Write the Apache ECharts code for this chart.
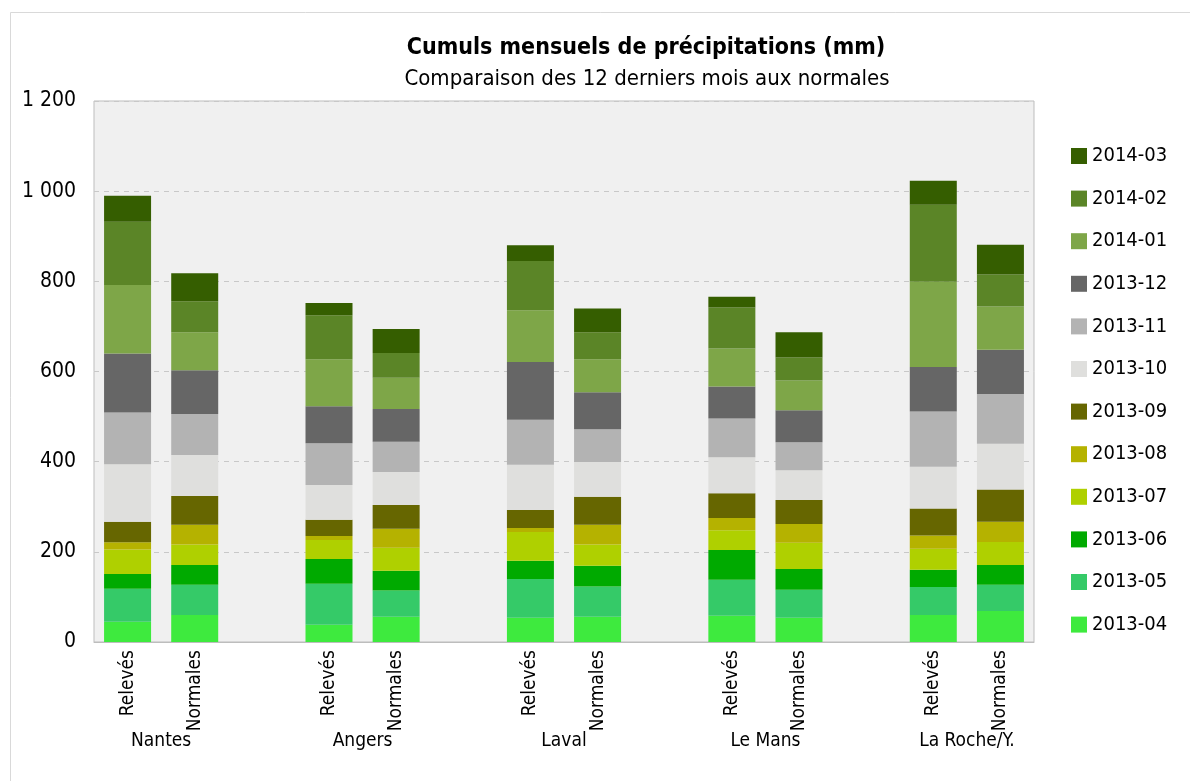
<!DOCTYPE html>
<html>
<head>
<meta charset="utf-8">
<script src="https://cdn.jsdelivr.net/npm/echarts@6/dist/echarts.min.js"></script>
<style>html,body{margin:0;padding:0;background:#fff;}#c{width:1190px;height:781px;}</style>
</head>
<body>
<div id="c"></div>
<script>
const months = ['2013-04','2013-05','2013-06','2013-07','2013-08','2013-09','2013-10','2013-11','2013-12','2014-01','2014-02','2014-03'];
const cities = ['Nantes','Angers','Laval','Le Mans','La Roche/Y.'];
const kinds = ['Relevés','Normales'];
const yTicks = [0,200,400,600,800,1000,1200];

// monthly values (mm), April 2013 -> March 2014
const nantesReleves    = [45, 73, 33, 54, 16, 46, 127, 115, 131, 152, 140, 58];
const nantesNormales   = [60, 67, 44, 45, 44, 64, 91, 91, 97, 84, 69, 62];
const angersReleves    = [38, 91, 55, 42, 9, 36, 77, 93, 82, 104, 98, 27];
const angersNormales   = [56, 58, 44, 51, 42, 53, 73, 67, 73, 69, 55, 53];
const lavalReleves     = [54, 86, 40, 64, 9, 40, 100, 100, 128, 115, 109, 35];
const lavalNormales    = [56, 67, 46, 47, 44, 62, 77, 73, 82, 73, 60, 53];
const lemansReleves    = [58, 80, 66, 44, 27, 55, 80, 86, 71, 84, 91, 24];
const lemansNormales   = [54, 62, 46, 58, 42, 53, 66, 62, 71, 66, 51, 56];
const larocheReleves   = [60, 62, 38, 47, 29, 60, 93, 122, 99, 189, 171, 53];
const larocheNormales  = [69, 58, 44, 51, 45, 71, 102, 110, 98, 96, 71, 66];

const colors = ['#3eea3e','#35ca68','#00aa00','#afd000','#b5b200','#666600','#dfdfdd','#b3b3b3','#666666','#7ea648','#5b8527','#355e00'];

const perCity = [
  [nantesReleves, nantesNormales],
  [angersReleves, angersNormales],
  [lavalReleves, lavalNormales],
  [lemansReleves, lemansNormales],
  [larocheReleves, larocheNormales]
];

// build 14 category slots: R, N, blank, R, N, blank, ...
const slots = [];
const slotData = [];
perCity.forEach((pair, ci) => {
  slots.push(kinds[0]); slotData.push(pair[0]);
  slots.push(kinds[1]); slotData.push(pair[1]);
  if (ci < perCity.length - 1) { slots.push(''); slotData.push(null); }
});

const FONT = "'Liberation Sans Narrow','DejaVu Sans Condensed',sans-serif";

const series = months.map((m, mi) => ({
  name: m,
  type: 'bar',
  stack: 'total',
  barCategoryGap: '30%',
  itemStyle: { color: colors[mi] },
  data: slotData.map(d => d ? d[mi] : '-'),
  emphasis: { disabled: true }
}));

const chart = echarts.init(document.getElementById('c'), null, { renderer: 'canvas' });
chart.setOption({
  animation: false,
  backgroundColor: '#ffffff',
  textStyle: { fontFamily: FONT },
  graphic: [{
    type: 'rect', z: -10, silent: true,
    shape: { x: 10.5, y: 12.5, width: 1200, height: 800 },
    style: { fill: 'none', stroke: '#d9d9d9', lineWidth: 1 }
  }],
  title: [
    { text: 'Cumuls mensuels de précipitations (mm)', left: 641, top: 32, textAlign: 'center',
      textStyle: { fontFamily: FONT, fontSize: 23, fontWeight: 'bold', color: '#000' } },
    { text: 'Comparaison des 12 derniers mois aux normales', left: 642, top: 63, textAlign: 'center',
      textStyle: { fontFamily: FONT, fontSize: 22, fontWeight: 'normal', color: '#000' } }
  ],
  legend: {
    orient: 'vertical',
    left: 1071,
    top: 145,
    padding: 0,
    itemWidth: 16,
    itemHeight: 16,
    itemGap: 20.6,
    itemTextGap: 8,
    icon: 'rect',
    data: months.slice().reverse(),
    textStyle: { fontFamily: FONT, fontSize: 20, lineHeight: 22, color: '#000' }
  },
  grid: {
    left: 94, right: 156, top: 101, bottom: 139,
    show: true, backgroundColor: '#f0f0f0', borderColor: '#bdbdbd', borderWidth: 1
  },
  xAxis: [
    {
      type: 'category',
      data: slots,
      axisLine: { show: true, lineStyle: { color: '#bdbdbd', width: 1 } },
      axisTick: { show: false },
      axisLabel: { interval: 0, rotate: 90, margin: 8, fontFamily: FONT, fontSize: 19, color: '#000' }
    },
    {
      type: 'value',
      min: 0, max: slots.length, interval: 1,
      position: 'bottom',
      offset: 82,
      axisLine: { show: false }, axisTick: { show: false }, splitLine: { show: false },
      axisLabel: {
        showMinLabel: true, showMaxLabel: true,
        fontFamily: FONT, fontSize: 19, color: '#000',
        formatter: v => ((v - 1) % 3 === 0 && cities[(v - 1) / 3]) ? cities[(v - 1) / 3] : ''
      }
    }
  ],
  yAxis: {
    type: 'value',
    min: yTicks[0], max: yTicks[yTicks.length - 1], interval: yTicks[1] - yTicks[0],
    axisLine: { show: false }, axisTick: { show: false },
    splitLine: { show: true, lineStyle: { color: '#c8c8c8', type: [5, 5], width: 1 } },
    axisLabel: {
      margin: 18, fontFamily: FONT, fontSize: 21, color: '#000',
      formatter: v => v >= 1000 ? Math.floor(v / 1000) + ' ' + String(v % 1000).padStart(3, '0') : String(v)
    }
  },
  series: series
});
</script>
</body>
</html>
